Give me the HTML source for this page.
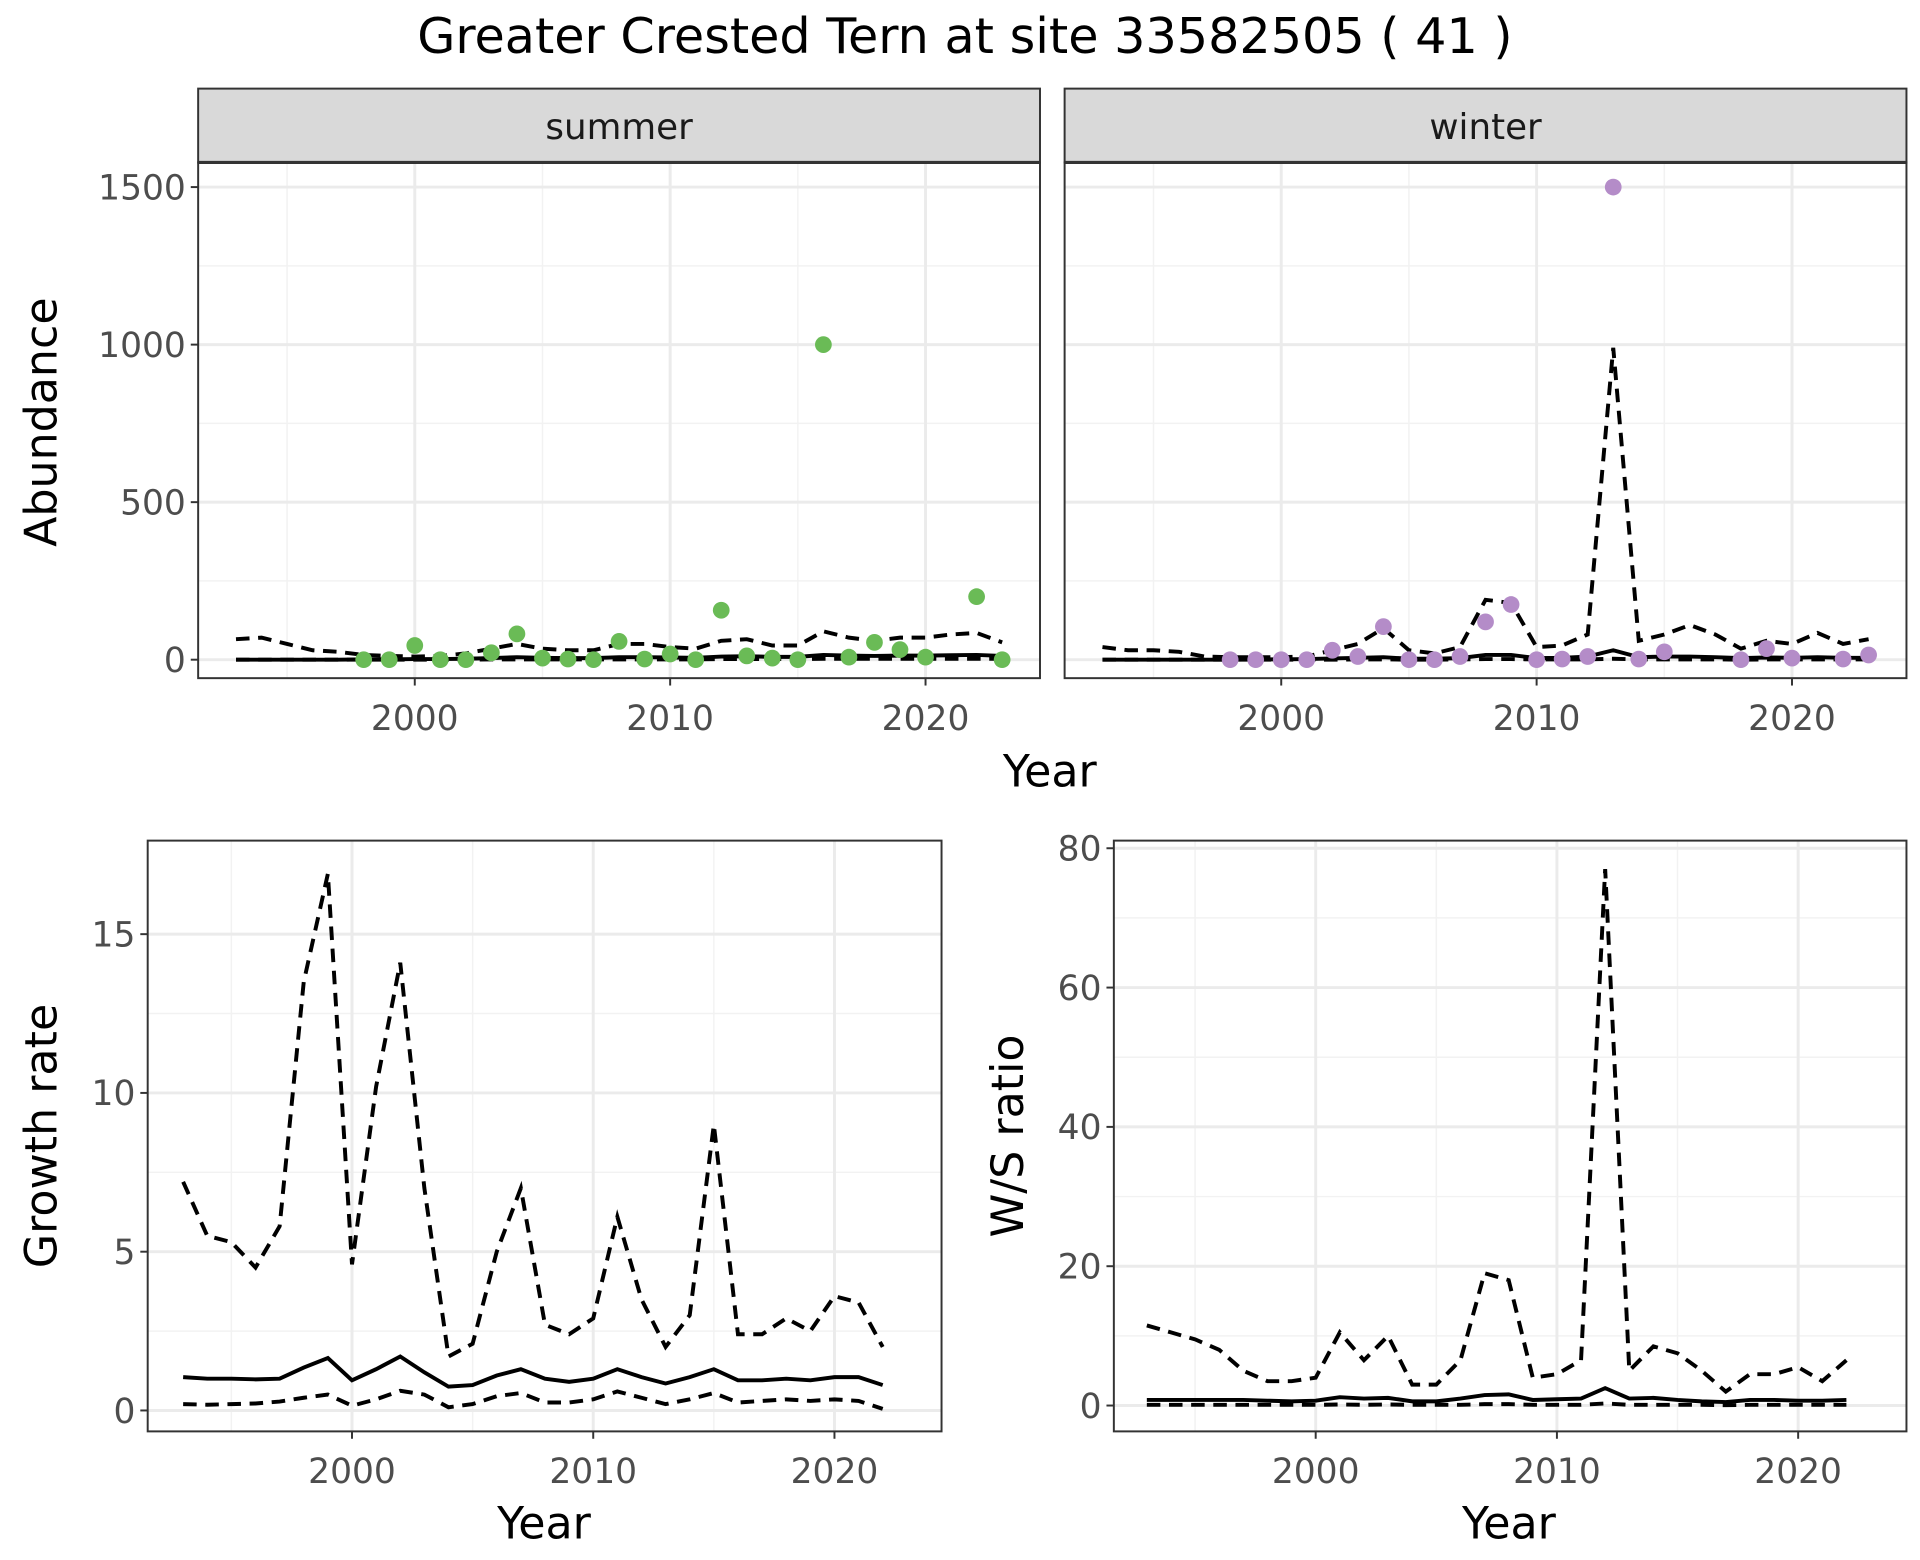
<!DOCTYPE html>
<html><head><meta charset="utf-8"><style>
html,body{margin:0;padding:0;background:#fff}
svg{display:block;font-family:"DejaVu Sans","Liberation Sans",sans-serif}
</style></head><body>
<svg id="fig" width="1920" height="1560" viewBox="0 0 1560 1267.5" xmlns="http://www.w3.org/2000/svg">
<rect width="1560" height="1267.5" fill="#fff"/>
<text x="784" y="43" font-size="40" text-anchor="middle" fill="#000">Greater Crested Tern at site 33582505 ( 41 )</text>
<g id="root"></g>
</svg>
<script>
const yearsAll = [1993,1994,1995,1996,1997,1998,1999,2000,2001,2002,2003,2004,2005,2006,2007,2008,2009,2010,2011,2012,2013,2014,2015,2016,2017,2018,2019,2020,2021,2022,2023];
const summerPtYears = [1998,1999,2000,2001,2002,2003,2004,2005,2006,2007,2008,2009,2010,2011,2012,2013,2014,2015,2016,2017,2018,2019,2020,2022,2023];
const summerPtVals = [0,0,45,0,0,22,82,5,2,0,58,2,18,0,157,12,5,0,1000,8,55,32,8,200,0];
const summerUpper = [65,70,50,30,25,15,12,10,12,20,35,50,35,30,30,50,50,40,35,60,65,45,45,90,70,60,70,70,80,85,55];
const summerMid = [0,0,0,0,0,1,1,2,2,3,5,8,6,5,5,8,8,7,6,10,11,9,9,15,13,12,13,13,14,15,12];
const summerLower = [0,0,0,0,0,0,0,0,0,0,1,1,1,1,1,1,1,1,1,2,2,2,2,3,3,3,3,3,3,3,3];
const winterPtYears = [1998,1999,2000,2001,2002,2003,2004,2005,2006,2007,2008,2009,2010,2011,2012,2013,2014,2015,2018,2019,2020,2022,2023];
const winterPtVals = [0,0,0,0,30,10,105,0,0,10,120,175,0,2,10,1500,2,25,0,35,5,2,15];
const winterUpper = [40,30,30,25,10,8,8,8,10,30,50,100,30,20,40,190,180,40,45,80,990,60,80,110,80,35,60,50,85,50,65];
const winterMid = [0,0,0,0,0,0,1,1,2,4,6,8,3,3,5,15,15,5,6,10,30,8,10,10,8,5,7,6,8,6,6];
const winterLower = [0,0,0,0,0,0,0,0,0,0,1,1,0,0,1,2,2,1,1,1,3,1,1,1,1,0,1,1,1,1,1];
const yearsGr = [1993,1994,1995,1996,1997,1998,1999,2000,2001,2002,2003,2004,2005,2006,2007,2008,2009,2010,2011,2012,2013,2014,2015,2016,2017,2018,2019,2020,2021,2022];
const growthUpper = [7.2,5.5,5.3,4.5,5.8,13.5,16.9,4.6,10.2,14.1,7.0,1.7,2.1,5.0,7.0,2.7,2.4,2.9,6.1,3.5,2.0,3.0,9.0,2.4,2.4,2.9,2.5,3.6,3.4,2.0];
const growthMid = [1.05,1.0,1.0,0.98,1.0,1.35,1.65,0.95,1.3,1.7,1.2,0.75,0.8,1.1,1.3,1.0,0.9,1.0,1.3,1.05,0.85,1.05,1.3,0.95,0.95,1.0,0.95,1.05,1.05,0.8];
const growthLower = [0.2,0.18,0.2,0.22,0.28,0.4,0.5,0.15,0.35,0.62,0.5,0.1,0.2,0.45,0.55,0.25,0.25,0.35,0.6,0.4,0.2,0.35,0.55,0.25,0.3,0.35,0.3,0.35,0.3,0.05];
const wsUpper = [11.5,10.5,9.5,8,5,3.5,3.5,4,10.5,6.5,10,3,3,6.5,19,18,4,4.5,6.5,77,5,8.5,7.5,5,2,4.5,4.5,5.5,3.5,6.5];
const wsMid = [0.8,0.8,0.8,0.8,0.8,0.7,0.6,0.7,1.2,1.0,1.1,0.6,0.6,1.0,1.5,1.6,0.8,0.9,1.0,2.5,1.0,1.1,0.8,0.6,0.5,0.8,0.8,0.7,0.7,0.8];
const wsLower = [0.1,0.1,0.1,0.1,0.1,0.1,0.1,0.1,0.15,0.1,0.15,0.1,0.1,0.1,0.2,0.2,0.1,0.1,0.1,0.3,0.1,0.1,0.1,0.1,0.05,0.1,0.1,0.1,0.1,0.1];
const abTicks = [0,500,1000,1500];
const grTicks = [0,5,10,15];
const wsTicks = [0,20,40,60,80];
const xTicks = [2000,2010,2020];

const NS='http://www.w3.org/2000/svg';
const root=document.getElementById('root');
function el(tag,attrs,parent){const e=document.createElementNS(NS,tag);for(const k in attrs)e.setAttribute(k,attrs[k]);(parent||root).appendChild(e);return e;}

function panel(o){
  const g=el('g',{});
  
  
  const sx=v=>o.x2000+(v-2000)*o.pxYear;
  const sy=v=>o.y0-v*o.pxUnit;
  o.yMinor.forEach(v=>{el('line',{x1:o.l,x2:o.r,y1:sy(v),y2:sy(v),stroke:'#f2f2f2','stroke-width':1.2},g);});
  [1995,2005,2015].forEach(v=>{el('line',{x1:sx(v),x2:sx(v),y1:o.t,y2:o.b,stroke:'#f2f2f2','stroke-width':1.2},g);});
  o.yTicks.forEach(v=>{el('line',{x1:o.l,x2:o.r,y1:sy(v),y2:sy(v),stroke:'#ebebeb','stroke-width':2.4},g);});
  xTicks.forEach(v=>{el('line',{x1:sx(v),x2:sx(v),y1:o.t,y2:o.b,stroke:'#ebebeb','stroke-width':2.4},g);});
  const line=(xs,ys,dash,name)=>{
    const p=el('polyline',{points:xs.map((x,i)=>sx(x)+','+sy(ys[i])).join(' '),fill:'none',stroke:'#000','stroke-width':3.2,'stroke-dasharray':dash?'11,7':'none'},g);
    
    
  };
  line(o.lx,o.upper,true,'upper-bound-line');
  line(o.lx,o.lower,true,'lower-bound-line');
  line(o.lx,o.mid,false,'estimate-line');
  if(o.px){o.px.forEach((x,i)=>{
    const c=el('circle',{cx:sx(x),cy:sy(o.pv[i]),r:6.8,fill:o.color},g);
    
    
  });}
  el('rect',{x:o.l,y:o.t,width:o.r-o.l,height:o.b-o.t,fill:'none',stroke:'#333','stroke-width':1.6},g);
  if(o.strip){
    const s=el('rect',{x:o.l,y:o.t-60,width:o.r-o.l,height:60,fill:'#d9d9d9',stroke:'#333','stroke-width':1.6},g);
    
    
    el('line',{x1:o.l,x2:o.r,y1:o.t,y2:o.t,stroke:'#333','stroke-width':2.5},g);
    const st=el('text',{x:(o.l+o.r)/2,y:o.t-19,'font-size':29,'text-anchor':'middle',fill:'#1a1a1a'},g);st.textContent=o.strip;
    
    
  }
  if(o.yLabels){o.yTicks.forEach(v=>{
    el('line',{x1:o.l-6,x2:o.l,y1:sy(v),y2:sy(v),stroke:'#333','stroke-width':1.6},g);
    const t=el('text',{x:o.l-10,y:sy(v)+10,'font-size':28,'text-anchor':'end',fill:'#4d4d4d'},g);t.textContent=v;
    
    
  });}
  xTicks.forEach(v=>{
    el('line',{x1:sx(v),x2:sx(v),y1:o.b,y2:o.b+6,stroke:'#333','stroke-width':1.6},g);
    const t=el('text',{x:sx(v),y:o.b+42,'font-size':28,'text-anchor':'middle',fill:'#4d4d4d'},g);t.textContent=v;
    
    
  });
}
panel({name:'summer-panel',l:161,r:845,t:132,b:551,x2000:337,pxYear:20.75,y0:536,pxUnit:0.256,yTicks:abTicks,yMinor:[250,750,1250],yLabels:true,lx:yearsAll,upper:summerUpper,mid:summerMid,lower:summerLower,px:summerPtYears,pv:summerPtVals,color:'#6abb56',strip:'summer'});
panel({name:'winter-panel',l:865,r:1549,t:132,b:551,x2000:1041,pxYear:20.75,y0:536,pxUnit:0.256,yTicks:abTicks,yMinor:[250,750,1250],yLabels:false,lx:yearsAll,upper:winterUpper,mid:winterMid,lower:winterLower,px:winterPtYears,pv:winterPtVals,color:'#b48cc8',strip:'winter'});
panel({name:'growth-rate-panel',l:120,r:765,t:683,b:1163,x2000:286,pxYear:19.6,y0:1146,pxUnit:25.8,yTicks:grTicks,yMinor:[2.5,7.5,12.5],yLabels:true,lx:yearsGr,upper:growthUpper,mid:growthMid,lower:growthLower});
panel({name:'ws-ratio-panel',l:905,r:1549,t:683,b:1163,x2000:1069,pxYear:19.6,y0:1142,pxUnit:5.66,yTicks:wsTicks,yMinor:[10,30,50,70],yLabels:true,lx:yearsGr,upper:wsUpper,mid:wsMid,lower:wsLower});
function label(txt,x,y,rot,name){
  const t=el('text',{x:x,y:y,'font-size':36,'text-anchor':'middle',fill:'#000',transform:rot?`rotate(-90 ${x} ${y})`:''});
  t.textContent=txt;
  
  
}
label('Year',853,639,false,'x-axis-title-top');
label('Abundance',46,343,true,'y-axis-title-abundance');
label('Year',442,1250,false,'x-axis-title-growth');
label('Growth rate',46,923,true,'y-axis-title-growth');
label('Year',1226,1250,false,'x-axis-title-ws');
label('W/S ratio',831,923,true,'y-axis-title-ws');
</script>
</body></html>
